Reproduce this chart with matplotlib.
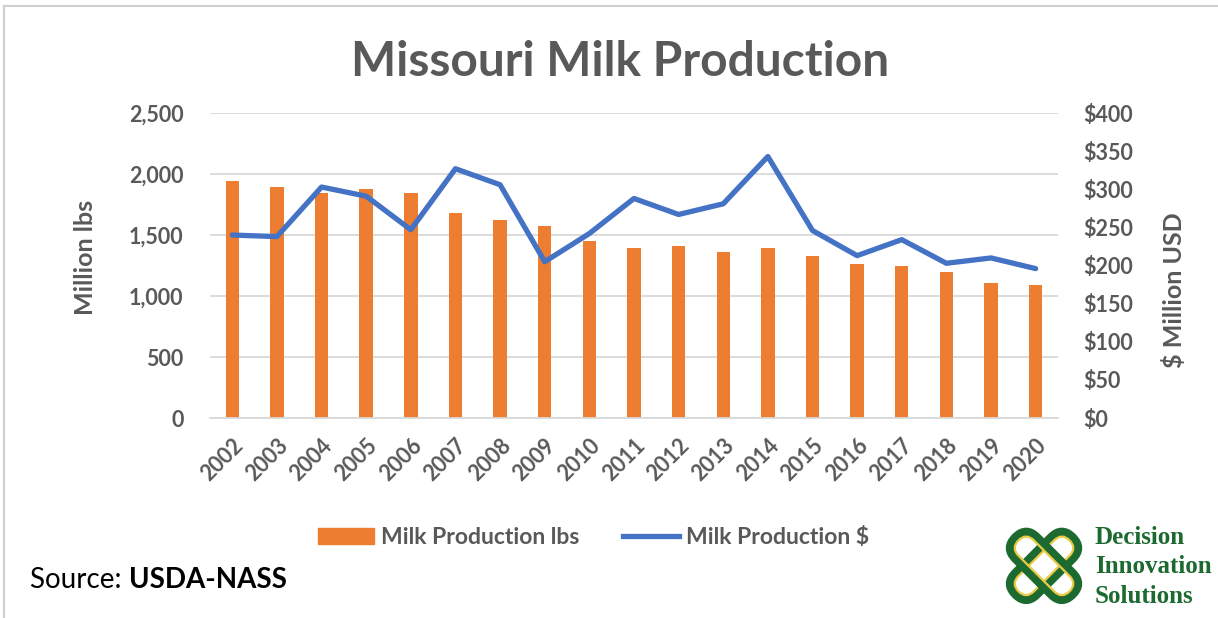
import matplotlib
matplotlib.use("Agg")
import matplotlib.pyplot as plt
from matplotlib.patches import Rectangle, FancyBboxPatch
from matplotlib.lines import Line2D
import matplotlib.transforms as mtransforms
import numpy as np

years = [str(y) for y in range(2002, 2021)]
milk_lbs = [1947, 1890, 1844, 1880, 1844, 1677, 1620, 1574, 1451, 1396,
            1407, 1361, 1396, 1330, 1259, 1248, 1194, 1103, 1093]
milk_usd = [240, 238, 303, 291, 247, 327, 306, 205, 242, 288,
            267, 281, 343, 246, 213, 234, 203, 210, 196]
left_ticks = [0, 500, 1000, 1500, 2000, 2500]
right_ticks = [0, 50, 100, 150, 200, 250, 300, 350, 400]

GRAY = "#595959"
ORANGE = "#ED7D31"
BLUE = "#4472C4"
GREEN = "#1C6A2F"
YELLOW = "#EBCB45"
FONT = "Lato"

plt.rcParams['font.family'] = [FONT, 'DejaVu Sans']

fig = plt.figure(figsize=(12.18, 6.18), dpi=100)
ax = fig.add_axes([0.1724, 0.3236, 0.6962, 0.4934])
ax2 = ax.twinx()

x = np.arange(len(years))
ax.bar(x, milk_lbs, width=0.3, color=ORANGE, zorder=2)
ax2.plot(x, milk_usd, color=BLUE, lw=3.8, solid_joinstyle='round', solid_capstyle='round', zorder=3)

ax.set_xlim(-0.5, len(years) - 0.5)
ax.set_ylim(0, 2500)
ax2.set_ylim(0, 400)
ax.set_yticks(left_ticks)
ax.set_yticklabels([f"{v:,}" for v in left_ticks])
ax2.set_yticks(right_ticks)
ax2.set_yticklabels([f"${v}" for v in right_ticks])
ax.grid(axis='y', color="#D9D9D9", lw=1.3, zorder=0)
ax.set_axisbelow(True)
for a in (ax, ax2):
    for s in a.spines.values():
        s.set_visible(False)
    a.tick_params(length=0, colors=GRAY, labelsize=15.5)
ax.spines['bottom'].set_visible(True)
ax.spines['bottom'].set_color("#D9D9D9")
ax.spines['bottom'].set_linewidth(1.3)
ax.tick_params(axis='y', pad=19)
ax2.tick_params(axis='y', pad=18)
for lab in ax.get_yticklabels() + ax2.get_yticklabels():
    lab.set_fontweight('bold')
ax.set_xticks(x)
ax.set_xticklabels(years, rotation=45, ha='right', rotation_mode='anchor', fontweight='bold')
ax.tick_params(axis='x', pad=12)
ax.set_ylabel("Million lbs", color=GRAY, fontsize=18, fontweight='bold')
ax.yaxis.set_label_coords(-0.133, 0.528)
ax2.set_ylabel("$ Million USD", color=GRAY, fontsize=18, fontweight='bold')
ax2.yaxis.set_label_coords(1.123, 0.42)

fig.text(0.509, 0.90, "Missouri Milk Production", ha='center', va='center',
         fontsize=34.5, fontweight='bold', color=GRAY)

# legend
leg_handles = [Rectangle((0, 0), 1, 1, color=ORANGE),
               Line2D([0], [0], color=BLUE, lw=3.8)]
leg = fig.legend(leg_handles, ["Milk Production lbs", "Milk Production $"],
                 loc='center', bbox_to_anchor=(0.487, 0.131), ncol=2, frameon=False,
                 prop={'size': 16.5, 'weight': 'bold', 'family': FONT},
                 handlelength=2.45, handleheight=0.7, columnspacing=1.9, handletextpad=0.3)
for t in leg.get_texts():
    t.set_color(GRAY)

# source
t1 = fig.text(0.025, 0.062, "Source: ", fontsize=20, color="black", va='center', ha='left')
fig.canvas.draw()
bb = t1.get_window_extent()
fig.text(bb.x1 / fig.bbox.width, 0.062, "USDA-NASS", fontsize=20, fontweight='bold',
         color="black", va='center', ha='left')

# frame (top and left edges)
fig.add_artist(Line2D([0.003, 1.0], [0.991, 0.991], transform=fig.transFigure, color="#D0D0D0", lw=1.5))
fig.add_artist(Line2D([0.003, 0.003], [0.0, 0.991], transform=fig.transFigure, color="#D0D0D0", lw=1.5))

# logo
lax = fig.add_axes([0.8235, 0.018, 0.0673, 0.1327])
lax.set_xlim(-1.3, 1.3)
lax.set_ylim(-1.3, 1.3)
lax.axis('off')
L, Wd = 2.55, 0.95
for ang in (45, -45):
    tr = mtransforms.Affine2D().rotate_deg(ang) + lax.transData
    p = FancyBboxPatch((-L / 2, -Wd / 2), L, Wd, boxstyle=f"round,pad=0,rounding_size={Wd/2}",
                       facecolor='none', edgecolor=GREEN, lw=6.5, transform=tr)
    lax.add_patch(p)
    inset = 0.13
    p2 = FancyBboxPatch((-L / 2 + inset, -Wd / 2 + inset), L - 2 * inset, Wd - 2 * inset,
                        boxstyle=f"round,pad=0,rounding_size={Wd/2 - inset}",
                        facecolor='none', edgecolor=YELLOW, lw=1.6, transform=tr)
    lax.add_patch(p2)
for i, w in enumerate(["Decision", "Innovation", "Solutions"]):
    fig.text(0.899, 0.131 - i * 0.048, w, fontsize=18, fontweight='bold', color=GREEN,
             family=['Liberation Serif', 'DejaVu Serif'], va='center', ha='left')

fig.savefig("out.png", dpi=100)
